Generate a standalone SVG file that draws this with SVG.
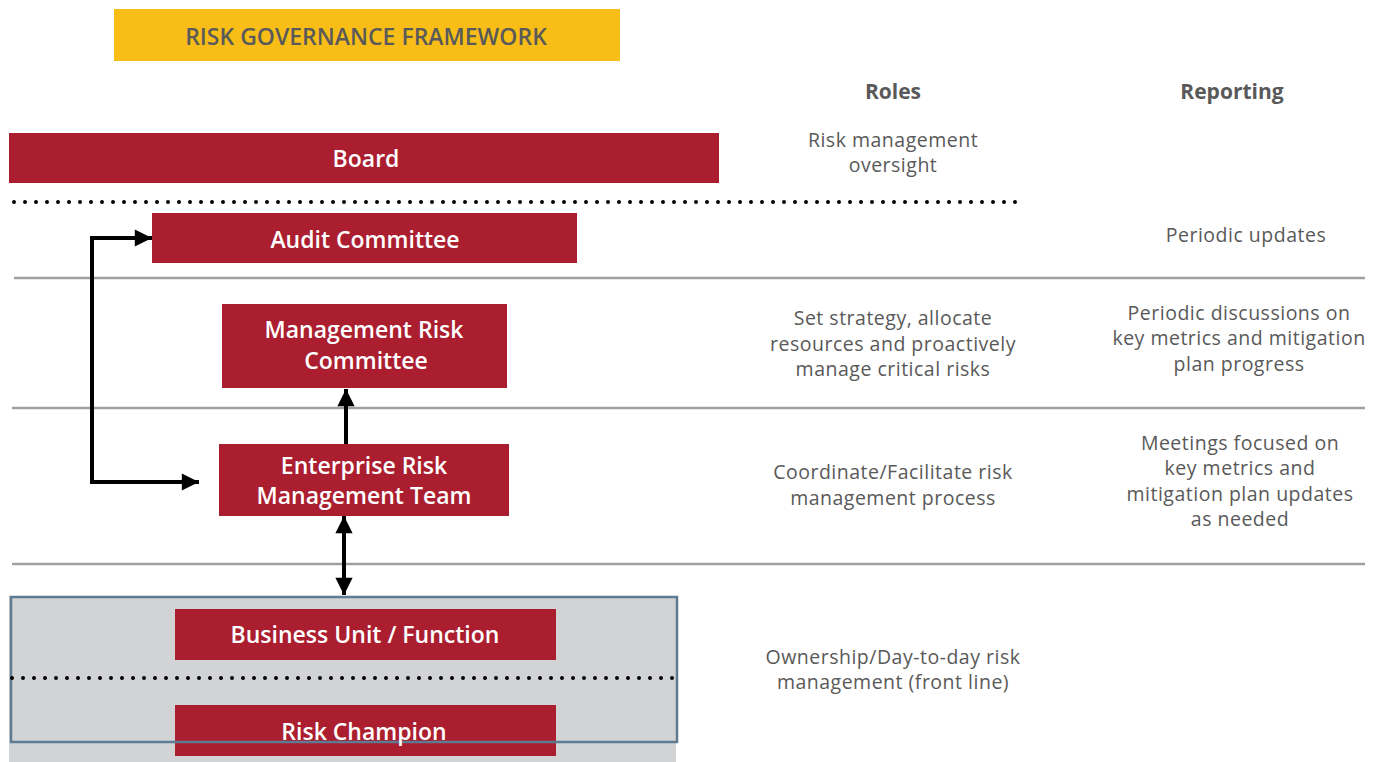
<svg xmlns="http://www.w3.org/2000/svg" width="1383" height="762" viewBox="0 0 1383 762">
<style>
.bg{fill:#ffffff}
.node{fill:#ab1e2f}
.nt{font-family:"Open Sans","Liberation Sans",sans-serif;font-weight:600;font-size:23px;fill:#ffffff;text-anchor:middle;dominant-baseline:central}
.body{font-family:"Open Sans","Liberation Sans",sans-serif;font-weight:400;font-size:19.5px;letter-spacing:0.5px;fill:#595959;text-anchor:middle;dominant-baseline:central}
.head{font-family:"Open Sans","Liberation Sans",sans-serif;font-weight:700;font-size:21px;fill:#595959;text-anchor:middle;dominant-baseline:central}
.title{font-family:"Open Sans","Liberation Sans",sans-serif;font-weight:600;font-size:23px;fill:#5a5a5a;text-anchor:middle;dominant-baseline:central}
.sep{stroke:#a0a0a0;stroke-width:2.5;fill:none}
.dots{stroke:#000;stroke-width:4;stroke-linecap:round;stroke-dasharray:0 11;fill:none}
.conn{stroke:#000;stroke-width:4;fill:none}
</style>
<defs>
<marker id="ah" viewBox="0 0 10 10" refX="10" refY="5" markerWidth="5.3" markerHeight="4.3" markerUnits="strokeWidth" orient="auto-start-reverse">
<path d="M0,0 L10,5 L0,10 z" fill="#000"/>
</marker>
</defs>
<rect class="bg" x="0" y="0" width="1383" height="762"/>

<g id="title">
<rect x="114" y="9" width="506" height="52" fill="#f8be17"/>
<text class="title" x="366" y="36">RISK GOVERNANCE FRAMEWORK</text>
</g>

<g id="separators">
<line class="dots" x1="14" y1="202" x2="1023" y2="202"/>
<line class="sep" x1="14" y1="278" x2="1365" y2="278"/>
<line class="sep" x1="12" y1="408" x2="1365" y2="408"/>
<line class="sep" x1="12" y1="564" x2="1365" y2="564"/>
</g>

<g id="front-line-area">
<rect x="9" y="596" width="667" height="166" fill="#d2d3d5"/>
</g>

<g id="board">
<rect class="node" x="9" y="133" width="710" height="50"/>
<text class="nt" x="366" y="158">Board</text>
</g>

<g id="audit-committee">
<rect class="node" x="152" y="213" width="425" height="50"/>
<text class="nt" x="365" y="239">Audit Committee</text>
</g>

<g id="management-risk-committee">
<rect class="node" x="222" y="304" width="285" height="84"/>
<text class="nt" x="364" y="329">Management Risk</text>
<text class="nt" x="366" y="360">Committee</text>
</g>

<g id="erm-team">
<rect class="node" x="219" y="444" width="290" height="72"/>
<text class="nt" x="364" y="465">Enterprise Risk</text>
<text class="nt" x="364" y="495">Management Team</text>
</g>

<g id="business-unit">
<rect class="node" x="175" y="609" width="381" height="51"/>
<text class="nt" x="365" y="634">Business Unit / Function</text>
</g>

<g id="risk-champion">
<rect class="node" x="175" y="705" width="381" height="51"/>
</g>

<g id="front-line-border">
<rect x="11" y="597" width="666" height="145" fill="none" stroke="#5f7b92" stroke-width="2.5"/>
<line class="dots" x1="12" y1="678" x2="680" y2="678"/>
<text class="nt" x="364" y="731">Risk Champion</text>
</g>

<g id="connectors">
<polyline class="conn" points="199,482 92,482 92,238 152,238" marker-start="url(#ah)" marker-end="url(#ah)"/>
<line class="conn" x1="346" y1="444" x2="346" y2="389" marker-end="url(#ah)"/>
<line class="conn" x1="344" y1="516" x2="344" y2="595" marker-start="url(#ah)" marker-end="url(#ah)"/>
</g>

<g id="roles">
<text class="head" x="893" y="91">Roles</text>
<text class="body" x="893" y="139">Risk management</text>
<text class="body" x="893" y="164">oversight</text>
<text class="body" x="893" y="317">Set strategy, allocate</text>
<text class="body" x="893" y="343">resources and proactively</text>
<text class="body" x="893" y="368">manage critical risks</text>
<text class="body" x="893" y="471">Coordinate/Facilitate risk</text>
<text class="body" x="893" y="497">management process</text>
<text class="body" x="893" y="656">Ownership/Day-to-day risk</text>
<text class="body" x="893" y="681">management (front line)</text>
</g>

<g id="reporting">
<text class="head" x="1232" y="91">Reporting</text>
<text class="body" x="1246" y="234">Periodic updates</text>
<text class="body" x="1239" y="312">Periodic discussions on</text>
<text class="body" x="1239" y="337">key metrics and mitigation</text>
<text class="body" x="1239" y="363">plan progress</text>
<text class="body" x="1240" y="442">Meetings focused on</text>
<text class="body" x="1240" y="467">key metrics and</text>
<text class="body" x="1240" y="493">mitigation plan updates</text>
<text class="body" x="1240" y="518">as needed</text>
</g>
</svg>
